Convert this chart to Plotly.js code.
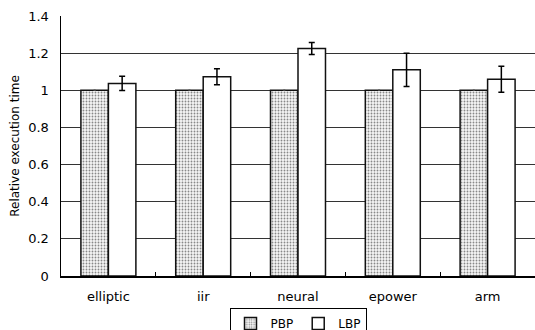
<!DOCTYPE html>
<html><head><meta charset="utf-8">
<script src="https://cdn.plot.ly/plotly-3.0.1.min.js"></script>
<style>html,body{margin:0;padding:0;background:#fff}</style>
</head><body>
<div id="chart" style="width:535px;height:330px"></div>
<script>
const categories = ["elliptic", "iir", "neural", "epower", "arm"];
const pbpValues = [1, 1, 1, 1, 1];
const pbpErrors = [0, 0, 0, 0, 0];
const lbpValues = [1.037, 1.073, 1.225, 1.11, 1.06];
const lbpErrors = [0.038, 0.043, 0.032, 0.09, 0.07];
const yTicks = [0, 0.2, 0.4, 0.6, 0.8, 1, 1.2, 1.4];
const yTickText = ["0", "0.2", "0.4", "0.6", "0.8", "1", "1.2", "1.4"];

const font = "DejaVu Sans, sans-serif";
const traces = [
  {
    type: "bar", name: "PBP", x: categories, y: pbpValues,
    marker: {
      color: "#ececec",
      line: {color: "#111", width: 1.5},
      pattern: {shape: ".", size: 3, solidity: 0.3, fgcolor: "#888", bgcolor: "#f6f6f6"}
    },
    error_y: {type: "data", array: pbpErrors, visible: true, color: "#444", thickness: 1, width: 1}
  },
  {
    type: "bar", name: "LBP", x: categories, y: lbpValues,
    marker: {color: "#ffffff", line: {color: "#111", width: 1.5}},
    error_y: {type: "data", array: lbpErrors, visible: true, color: "#000", thickness: 1.5, width: 3}
  }
];

const layout = {
  width: 535, height: 330,
  margin: {l: 61, r: 0, t: 16, b: 54, autoexpand: false},
  paper_bgcolor: "#fff", plot_bgcolor: "#fff",
  font: {family: font, size: 13, color: "#000"},
  barmode: "group", bargap: 0.42, bargroupgap: 0,
  showlegend: true,
  legend: {
    orientation: "h", x: 0.5, xanchor: "center", y: -0.123, yanchor: "top",
    bordercolor: "#000", borderwidth: 1, font: {family: font, size: 12},
    itemwidth: 30, tracegroupgap: 0
  },
  xaxis: {
    showline: true, linecolor: "#000", linewidth: 1.5,
    ticks: "inside", ticklen: 4, tickcolor: "#000", tickwidth: 1, tickson: "boundaries",
    showgrid: false, ticklabelstandoff: 8,
    tickfont: {family: font, size: 13}
  },
  yaxis: {
    range: [0, 1.4], tickvals: yTicks, ticktext: yTickText,
    showline: true, linecolor: "#000", linewidth: 1.5,
    showgrid: true, gridcolor: "#333", gridwidth: 1,
    zeroline: false, ticks: "", ticklabelstandoff: 8,
    tickfont: {family: font, size: 13},
    title: {text: "Relative execution time", font: {family: font, size: 12}, standoff: 6}
  }
};

Plotly.newPlot("chart", traces, layout, {displayModeBar: false, staticPlot: true});
</script>
</body></html>
